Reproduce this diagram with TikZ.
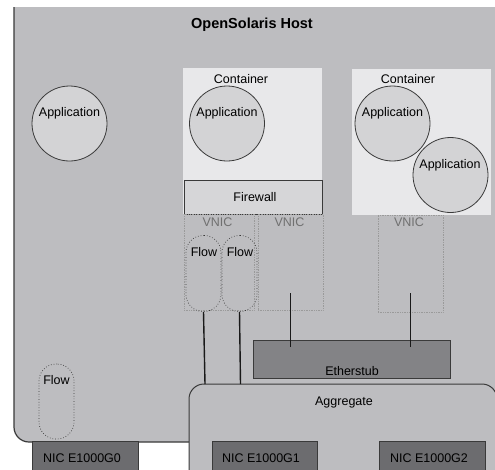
\documentclass[tikz,border=0pt]{standalone}
\usepackage{fontspec}
\setmainfont{Liberation Sans}
\definecolor{hostfill}{HTML}{BDBDC0}
\definecolor{hostline}{HTML}{3A3A3A}
\definecolor{contfill}{HTML}{E8E8EA}
\definecolor{appfill}{HTML}{D3D3D5}
\definecolor{fwfill}{HTML}{D6D6D8}
\definecolor{esfill}{HTML}{838386}
\definecolor{nicfill}{HTML}{6C6C6F}
\definecolor{vnicline}{HTML}{9A9A9A}
\definecolor{vnictext}{HTML}{707070}
\tikzset{
  txt/.style={inner sep=0pt, font=\fontsize{12.5}{15}\selectfont},
  app/.style={circle, draw=hostline, line width=0.8pt, fill=appfill, minimum size=75pt, inner sep=0pt},
  contbox/.style={rectangle, fill=contfill, minimum width=139pt, minimum height=146pt, inner sep=0pt},
  fwbox/.style={rectangle, draw=hostline, line width=1pt, fill=fwfill, minimum width=138pt, minimum height=34pt, inner sep=0pt},
  vnicbox/.style={rectangle, draw=vnicline, densely dotted, line width=0.7pt, minimum height=96pt, inner sep=0pt},
  flowbox/.style={rectangle, draw=hostline, dotted, line width=0.7pt, rounded corners=17pt, minimum width=35pt, minimum height=76pt, inner sep=0pt},
  esbox/.style={rectangle, draw=hostline, line width=0.8pt, fill=esfill, minimum width=197pt, minimum height=38pt, inner sep=0pt},
  nicbox/.style={rectangle, draw=hostline, line width=0.8pt, fill=nicfill, minimum width=106pt, minimum height=40pt, inner sep=0pt},
  link/.style={draw=black!90, line width=1.4pt}
}
\begin{document}
\begin{tikzpicture}[x=1pt,y=-1pt]
\useasboundingbox (0,0) rectangle (495,469);
\clip (0,0) rectangle (495,469);
\fill[white] (0,0) rectangle (495,469);
% host
\fill[hostfill] (14,7) [rounded corners=15pt] -- (14,442) -- (530,442) [sharp corners] -- (530,7) -- cycle;
\draw[hostline, line width=1.2pt] (14,7) [rounded corners=15pt] -- (14,442) -- (530,442);
\node[txt, font=\bfseries\fontsize{14.5}{17}\selectfont] (title) at (252,25) {OpenSolaris Host};
% left application
\node[app] (app0) at (69.5,123.5) {};
\node[txt] (app0t) at (69.5,113) {Application};
% container 1
\node[contbox] (c1) at (252.5,141) {};
\node[txt] (c1t) at (241,79) {Container};
\node[app] (app1) at (227,123.5) {};
\node[txt] (app1t) at (227,113) {Application};
\node[fwbox] (fw) at (253,197) {};
\node[txt] (fwt) at (255,197) {Firewall};
% container 2
\node[contbox] (c2) at (421.5,141.5) {};
\node[txt] (c2t) at (408,79) {Container};
\node[app] (app2) at (392.5,123.5) {};
\node[txt] (app2t) at (392.5,113) {Application};
\node[app] (app3) at (450.5,175) {};
\node[txt] (app3t) at (450,165) {Application};
% VNICs
\node[vnicbox, minimum width=70pt] (v1) at (219,262) {};
\node[txt, text=vnictext] (v1t) at (217.5,222) {VNIC};
\node[vnicbox, minimum width=65pt] (v2) at (290.5,262) {};
\node[txt, text=vnictext] (v2t) at (289.5,222) {VNIC};
\node[vnicbox, minimum width=65pt, minimum height=97pt] (v3) at (410.5,263.5) {};
\node[txt, text=vnictext] (v3t) at (409,222) {VNIC};
% flows
\node[flowbox] (f1) at (203.5,273.5) {};
\node[txt] (f1t) at (204,252) {Flow};
\node[flowbox] (f2) at (239.5,273.5) {};
\node[txt] (f2t) at (240,252) {Flow};
\node[flowbox, minimum height=75pt] (f0) at (56.5,401.5) {};
\node[txt] (f0t) at (56.5,380) {Flow};
% etherstub
\node[esbox] (es) at (351.5,359) {};
\node[txt] (est) at (352,371) {Etherstub};
% aggregate
\path[fill=hostfill, draw=hostline, line width=1pt, rounded corners=15pt] (189,520) -- (189,384) -- (497,384) -- (497,520);
\coordinate (agg) at (343,384);
\node[txt] (aggt) at (344,402) {Aggregate};
% NICs
\node[nicbox] (n0) at (85,461) {};
\node[txt] (n0t) at (82,458) {NIC E1000G0};
\node[nicbox, minimum width=105pt] (n1) at (264.5,461) {};
\node[txt] (n1t) at (261,458) {NIC E1000G1};
\node[nicbox] (n2) at (432,461) {};
\node[txt] (n2t) at (429,458) {NIC E1000G2};
% links
\draw[link] (f1.south) -- ([xshift=1.5pt]f1.south |- agg);
\draw[link] (f2.south) -- ([xshift=1pt]f2.south |- agg);
\draw[link] ([yshift=17pt]v2.south) -- ([yshift=-7pt]v2.south |- es.north);
\draw[link] ([yshift=19pt]v3.south) -- ([yshift=-7pt]v3.south |- es.north);
\end{tikzpicture}
\end{document}
